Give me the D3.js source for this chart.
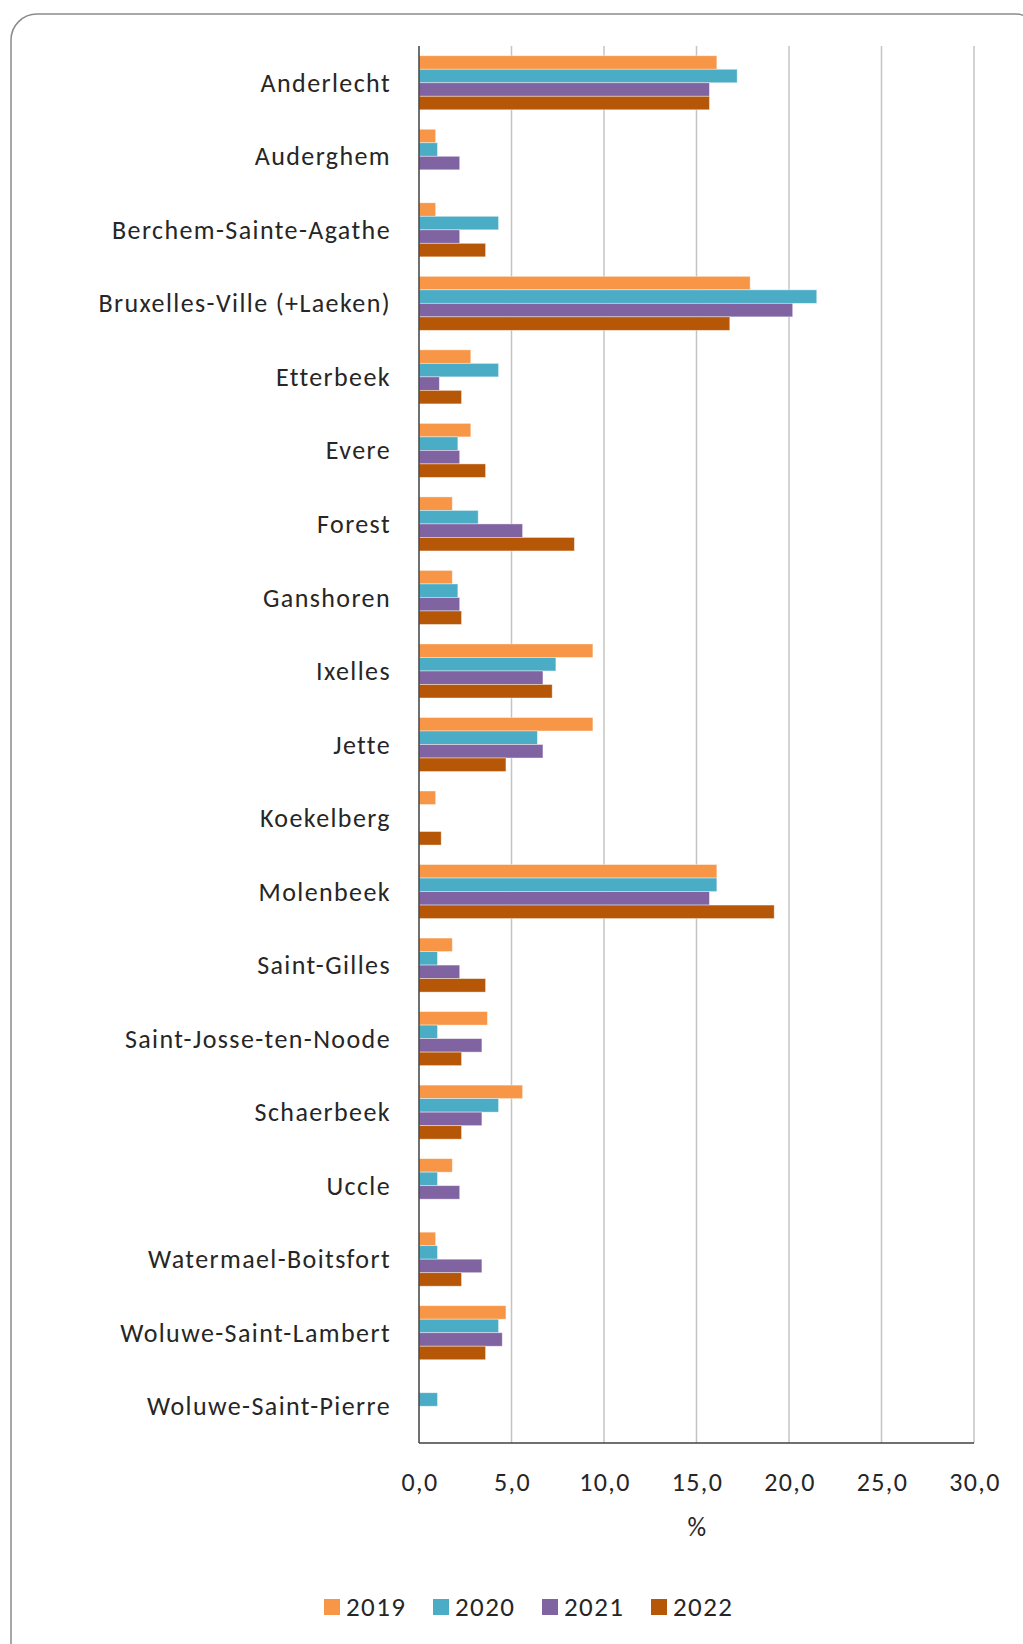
<!DOCTYPE html>
<html>
<head>
<meta charset="utf-8">
<script src="https://cdn.jsdelivr.net/npm/d3@7"></script>
<style>
  body { margin: 0; background: #fff; }
  text { font-family: Carlito, Calibri, Lato, sans-serif; fill: #262626; letter-spacing: 1.4px; }
</style>
</head>
<body>
<div id="chart"></div>
<script>
(function(){
    var width = 1023;
    var height = 1644;

    var communes = ["Anderlecht", "Auderghem", "Berchem-Sainte-Agathe", "Bruxelles-Ville (+Laeken)",
        "Etterbeek", "Evere", "Forest", "Ganshoren", "Ixelles", "Jette", "Koekelberg", "Molenbeek",
        "Saint-Gilles", "Saint-Josse-ten-Noode", "Schaerbeek", "Uccle", "Watermael-Boitsfort",
        "Woluwe-Saint-Lambert", "Woluwe-Saint-Pierre"]
    var years = ["2019", "2020", "2021", "2022"]
    var v2019 = [16.1, 0.9, 0.9, 17.9, 2.8, 2.8, 1.8, 1.8, 9.4, 9.4, 0.9, 16.1, 1.8, 3.7, 5.6, 1.8, 0.9, 4.7, 0]
    var v2020 = [17.2, 1.0, 4.3, 21.5, 4.3, 2.1, 3.2, 2.1, 7.4, 6.4, 0, 16.1, 1.0, 1.0, 4.3, 1.0, 1.0, 4.3, 1.0]
    var v2021 = [15.7, 2.2, 2.2, 20.2, 1.1, 2.2, 5.6, 2.2, 6.7, 6.7, 0, 15.7, 2.2, 3.4, 3.4, 2.2, 3.4, 4.5, 0]
    var v2022 = [15.7, 0, 3.6, 16.8, 2.3, 3.6, 8.4, 2.3, 7.2, 4.7, 1.2, 19.2, 3.6, 2.3, 2.3, 0, 2.3, 3.6, 0]
    var ticks = [0, 5, 10, 15, 20, 25, 30]
    var colors = ["#F79646", "#4BACC6", "#8064A2", "#B65708"]

    var series = [v2019, v2020, v2021, v2022]

    var svg = d3.select("#chart")
        .append("svg")
        .attr("width", width)
        .attr("height", height)

    // rounded frame
    svg.append("rect")
        .attr("x", 11)
        .attr("y", 14)
        .attr("width", 1030)
        .attr("height", 1660)
        .attr("rx", 26)
        .attr("fill", "#fff")
        .attr("stroke", "#8c8c8c")
        .attr("stroke-width", 1.5)

    var x = d3.scaleLinear().domain([0, 30]).range([419, 974])
    var y = d3.scaleBand().domain(communes).range([46, 1443])
        .paddingInner(0.265).paddingOuter(0.1325)
    var ySub = d3.scaleBand().domain(years).range([0, y.bandwidth()])

    // gridlines
    svg.selectAll(".grid")
        .data(ticks.slice(1))
        .enter().append("line")
        .attr("class", "grid")
        .attr("x1", function(d){ return x(d) })
        .attr("x2", function(d){ return x(d) })
        .attr("y1", 46)
        .attr("y2", 1443)
        .attr("stroke", "#c4c4c4")
        .attr("stroke-width", 1.5)

    // bars
    var rows = communes.map(function(c, i){
        return { name: c, values: years.map(function(yr, j){ return { year: yr, v: series[j][i], color: colors[j] } }) }
    })

    var groups = svg.selectAll(".commune")
        .data(rows)
        .enter().append("g")
        .attr("class", "commune")
        .attr("transform", function(d){ return "translate(0," + y(d.name) + ")" })

    groups.selectAll("rect")
        .data(function(d){ return d.values.filter(function(e){ return e.v > 0 }) })
        .enter().append("rect")
        .attr("x", x(0))
        .attr("y", function(d){ return ySub(d.year) })
        .attr("width", function(d){ return x(d.v) - x(0) })
        .attr("height", ySub.bandwidth())
        .attr("fill", function(d){ return d.color })
        .attr("stroke", "#ffffff")
        .attr("stroke-opacity", 0.5)
        .attr("stroke-width", 0.8)

    // axes lines
    svg.append("line")
        .attr("x1", x(0)).attr("x2", x(0))
        .attr("y1", 46).attr("y2", 1443)
        .attr("stroke", "#404040").attr("stroke-width", 1.5)
    svg.append("line")
        .attr("x1", x(0)).attr("x2", x(30))
        .attr("y1", 1443).attr("y2", 1443)
        .attr("stroke", "#404040").attr("stroke-width", 1.5)

    // category labels
    svg.selectAll(".cat")
        .data(communes)
        .enter().append("text")
        .attr("class", "cat")
        .attr("x", 391)
        .attr("y", function(d){ return y(d) + y.bandwidth() / 2 })
        .attr("dy", "0.35em")
        .attr("text-anchor", "end")
        .style("font-size", "26px")
        .text(function(d){ return d })

    // tick labels
    svg.selectAll(".tick-label")
        .data(ticks)
        .enter().append("text")
        .attr("class", "tick-label")
        .attr("x", function(d){ return x(d) + 1 })
        .attr("y", 1482)
        .attr("dy", "0.35em")
        .attr("text-anchor", "middle")
        .style("font-size", "26px")
        .text(function(d){ return d3.format(".1f")(d).replace(".", ",") })

    svg.append("text")
        .attr("x", x(15) + 1)
        .attr("y", 1527)
        .attr("dy", "0.35em")
        .attr("text-anchor", "middle")
        .style("font-size", "26px")
        .text("%")

    // legend
    var legend = svg.selectAll(".legend")
        .data(years)
        .enter().append("g")
        .attr("class", "legend")
        .attr("transform", function(d, i){ return "translate(" + (324 + i * 109) + ",1607)" })

    legend.append("rect")
        .attr("x", 0)
        .attr("y", -8)
        .attr("width", 16)
        .attr("height", 16)
        .attr("fill", function(d, i){ return colors[i] })

    legend.append("text")
        .attr("x", 22)
        .attr("y", 0)
        .attr("dy", "0.35em")
        .style("font-size", "27px")
        .text(function(d){ return d })
})();
</script>
</body>
</html>
